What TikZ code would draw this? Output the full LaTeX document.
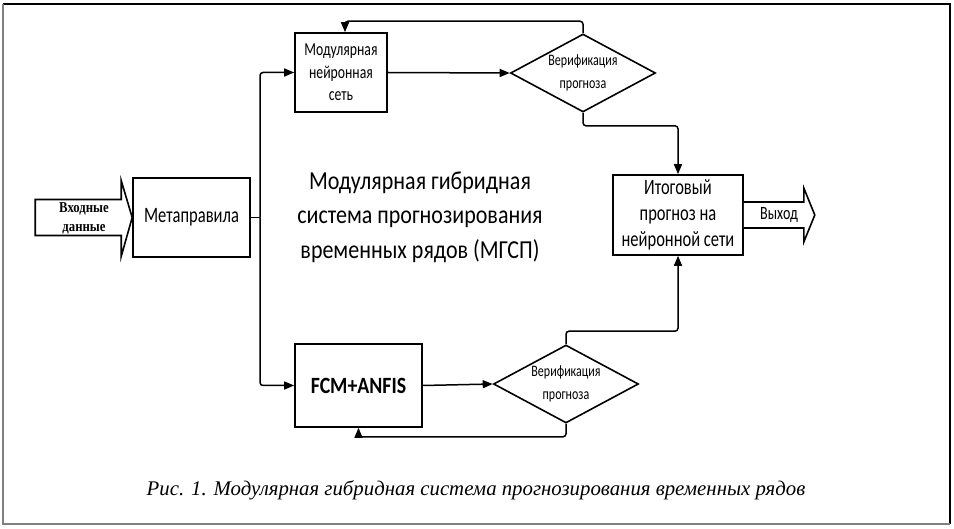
\documentclass[tikz,border=0pt]{standalone}
\usepackage{fontspec}
\setmainfont{Liberation Serif}
\newfontfamily\carlB[FakeStretch=0.75]{Carlito}
\newfontfamily\carlC[FakeStretch=0.85]{Carlito}
\newfontfamily\serC[FakeStretch=0.85]{Liberation Serif}
\usetikzlibrary{arrows.meta,shapes.geometric}
\begin{document}
\begin{tikzpicture}[x=1pt,y=-1pt,
  box/.style={draw,line width=1.6pt,inner sep=0pt,align=center,font=\carlB},
  dia/.style={draw,line width=1.6pt,diamond,aspect=1.86,inner sep=0pt,minimum width=145pt,minimum height=78pt,align=center,font=\carlB\fontsize{16}{23}\selectfont},
  arr/.style={line width=1.5pt,-{Triangle[length=10pt,width=8pt]},rounded corners=3pt},
  fat/.style={draw,line width=1.6pt,fill=white,line join=miter},
  lbl/.style={inner sep=0pt,align=center}]
\useasboundingbox (0,0) rectangle (954,529);
% frame
\draw[line width=1.5pt] (3,4) -- (950,4) -- (950,524);
\draw[line width=2.5pt,gray] (3,4) -- (3,524) -- (950,524);
% nodes
\node[box,minimum width=117pt,minimum height=79pt,font=\carlB\fontsize{22}{24}\selectfont] (meta) at (191.5,217.5) {Метаправила};
\node[box,minimum width=92pt,minimum height=79pt,font=\carlB\fontsize{18.3}{22.5}\selectfont] (mnn) at (341,72.5) {Модулярная\\нейронная\\сеть};
\node[dia] (ver1) at (583,73) {Верификация\\прогноза};
\node[box,minimum width=130pt,minimum height=80pt,font=\carlB\fontsize{22}{26}\selectfont] (itog) at (678,215) {Итоговый\\прогноз на\\нейронной сети};
\node[box,minimum width=127pt,minimum height=83pt,font=\carlC\bfseries\fontsize{23.3}{25}\selectfont] (fcm) at (358.5,385.5) {FCM+ANFIS};
\node[dia] (ver2) at (566,384) {Верификация\\прогноза};
\node[lbl,font=\carlC\fontsize{25.9}{34.5}\selectfont] (title) at (420,217) {Модулярная гибридная\\система прогнозирования\\временных рядов (МГСП)};
% input arrow
\draw[fat] (meta.west) -- ++(-11,-37) -- ++(0,19) -- ++(-86,0) -- ++(0,36) -- ++(86,0) -- ++(0,21) -- cycle;
\node[lbl,font=\serC\bfseries\fontsize{15}{19}\selectfont] (inp) at (84,218) {Входные\\данные};
% output arrow
\coordinate (oe) at (itog.east);
\draw[fat] ([shift={(0,-13)}]oe) -- ++(60,0) -- ++(0,-14) -- ++(11,27) -- ++(-11,27) -- ++(0,-14) -- ++(-60,0);
\node[lbl,font=\carlB\fontsize{18.7}{20}\selectfont] (out) at (779,215) {Выход};
% connectors
\coordinate (j) at (260,217.5);
\draw[line width=1.5pt] (meta.east) -- (j);
\draw[arr] (j) |- (mnn.west);
\draw[arr] (j) |- (fcm.west);
\draw[arr] (mnn.east) -- (ver1.west);
\draw[arr] (fcm.east) -- (ver2.west);
\draw[arr] (ver1.north) -- ++(0,-12) -| ([xshift=4pt]mnn.north);
\draw[arr] (ver1.south) -- ++(0,13) -| (itog.north);
\draw[arr] (ver2.north) -- ++(0,-13) -| (itog.south);
\draw[arr] (ver2.south) -- ++(0,13) -| (fcm.south);
% caption
\node[lbl,font=\itshape\fontsize{20.8}{22}\selectfont] (cap) at (476,490) {Рис. 1. Модулярная гибридная система прогнозирования временных рядов};
\end{tikzpicture}
\end{document}
